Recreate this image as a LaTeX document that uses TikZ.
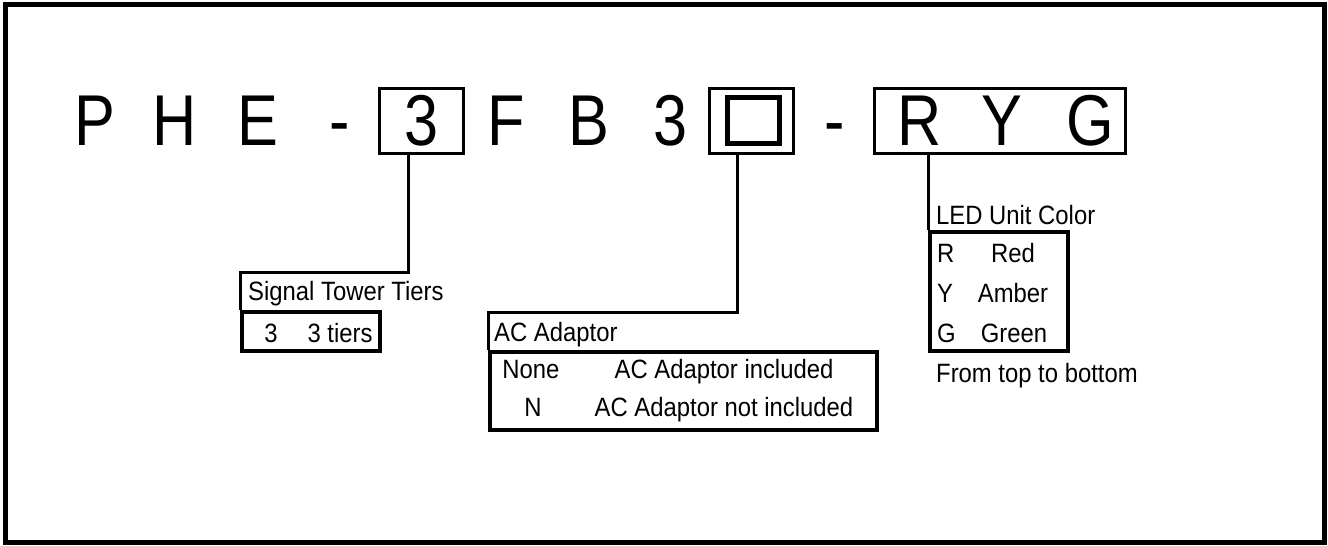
\documentclass[tikz,border=0pt]{standalone}
\usepackage{fontspec}
\usepackage{tikz}
\usetikzlibrary{positioning}
\newfontfamily\codeface[FakeStretch=0.85]{Liberation Sans}
\newfontfamily\labelface[FakeStretch=0.9]{Liberation Sans}
\newcommand{\codefont}{\codeface\fontsize{72}{72}\selectfont}
\newcommand{\labelfont}{\labelface\fontsize{26.5}{26.5}\selectfont}
\tikzset{%
	code letter/.style={
		font=\codefont,
		anchor=base,
		inner sep=0pt
	},
	code box/.style={
		draw,
		line width=3pt,
		minimum height=65pt,
		inner sep=0pt
	},
	leader/.style={
		line width=3pt
	},
	table box/.style={
		draw,
		line width=3.5pt,
		inner sep=0pt
	},
	label text/.style={
		font=\labelfont,
		anchor=base west,
		inner sep=0pt
	},
	entry/.style={
		font=\labelfont,
		anchor=base,
		inner sep=0pt
	},
}
\begin{document}
\begin{tikzpicture}[x=1pt,y=-1pt]
			\useasboundingbox (0,0) rectangle (1328,546);
			% outer frame
			\draw[line width=5pt] (5.5,4) rectangle (1324.5,542.5);
			
			% Model code
			\node[code letter] (cP) at (95,145) {P};
			\node[code letter] (cH) at (175,145) {H};
			\node[code letter] (cE) at (258,145) {E};
			\node[code letter] (cdashA) at (340,145) {-};
			\node[code letter] (ctier) at (422,145) {3};
			\node[code letter] (cF) at (506,145) {F};
			\node[code letter] (cB) at (589,145) {B};
			\node[code letter] (cthree) at (671,145) {3};
			\node[code letter] (cdashB) at (835,145) {-};
			\node[code letter] (cR) at (920,145) {R};
			\node[code letter] (cY) at (1002,145) {Y};
			\node[code letter] (cG) at (1090,145) {G};
			
			% boxes round the option fields
			\node[code box, minimum width=84pt] (tierbox) at (421,120.5) {};
			\node[code box, minimum width=84pt] (adaptbox) at (751,120.5) {};
			\node[draw, line width=5pt, minimum width=52pt, minimum height=46pt, inner sep=0pt] (blankmark) at (753.5,120) {};
			\node[code box, minimum width=251pt] (colorbox) at (999.5,120.5) {};
			
			% Signal Tower Tiers
			\coordinate (tierknee) at (408,272);
			\node[table box, minimum width=138pt, minimum height=39pt] (tiertab) at (311,331.5) {};
			\draw[leader] (tierbox.south -| tierknee) -- (tierknee) -| (tiertab.north west);
			\node[label text] (tiertitle) at (248,300) {Signal Tower Tiers};
			\node[entry] (tiercode) at (271,342) {3};
			\node[entry] (tiertext) at (340,342) {3 tiers};
			
			% AC Adaptor
			\coordinate (adaptknee) at (737,312);
			\node[table box, minimum width=387pt, minimum height=78pt] (adapttab) at (683.5,391) {};
			\draw[leader] (adaptbox.south -| adaptknee) -- (adaptknee) -| (adapttab.north west);
			\node[label text] (adapttitle) at (494,341) {AC Adaptor};
			\node[entry] (adaptcodeA) at (531,378) {None};
			\node[entry] (adapttextA) at (724,378) {AC Adaptor included};
			\node[entry] (adaptcodeB) at (533,416) {N};
			\node[entry] (adapttextB) at (724,416) {AC Adaptor not included};
			
			% LED Unit Color
			\node[table box, minimum width=138pt, minimum height=119pt] (colortab) at (999,291.5) {};
			\draw[leader] (colorbox.south -| colortab.west) -- (colortab.north west);
			\node[label text] (colortitle) at (936,224) {LED Unit Color};
			\node[label text] (colorcodeR) at (937,262) {R};
			\node[entry] (colortextR) at (1013,262) {Red};
			\node[label text] (colorcodeY) at (937,302) {Y};
			\node[entry] (colortextY) at (1013,302) {Amber};
			\node[label text] (colorcodeG) at (937,342) {G};
			\node[entry] (colortextG) at (1014,342) {Green};
			\node[label text] (colornote) at (936,382) {From top to bottom};
			
		\end{tikzpicture}
\end{document}
